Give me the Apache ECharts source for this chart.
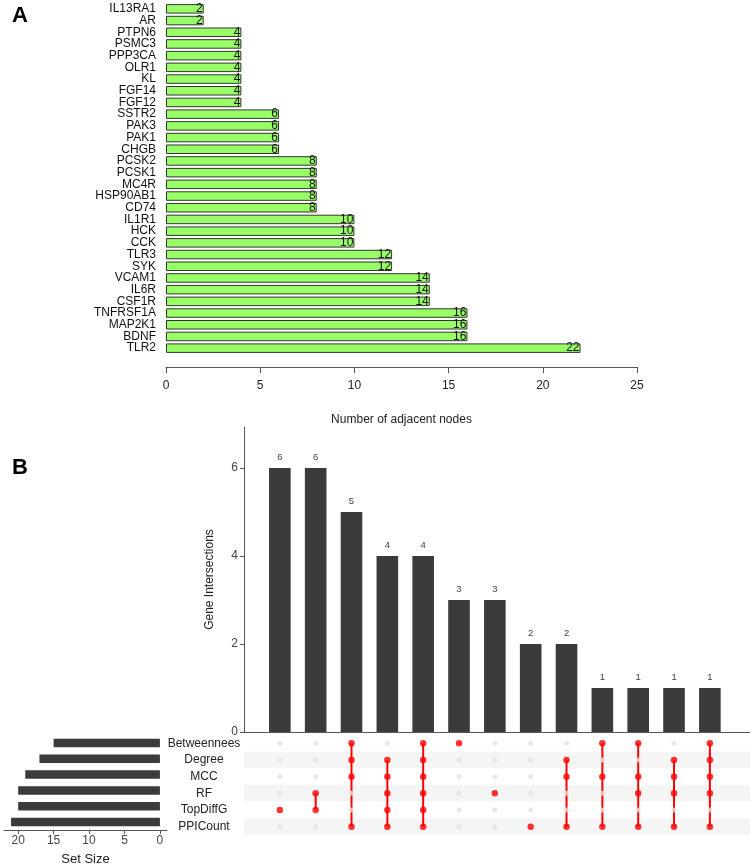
<!DOCTYPE html>
<html>
<head>
<meta charset="utf-8">
<script src="https://cdn.jsdelivr.net/npm/echarts@6/dist/echarts.min.js"></script>
<style>
html,body{margin:0;padding:0;background:#fff;}
#c{width:750px;height:867px;}
</style>
</head>
<body>
<div id="c"></div>
<script>
// Panel A data (top to bottom)
var genes = ['IL13RA1','AR','PTPN6','PSMC3','PPP3CA','OLR1','KL','FGF14','FGF12','SSTR2','PAK3','PAK1','CHGB','PCSK2','PCSK1','MC4R','HSP90AB1','CD74','IL1R1','HCK','CCK','TLR3','SYK','VCAM1','IL6R','CSF1R','TNFRSF1A','MAP2K1','BDNF','TLR2'];
var adjacentNodes = [2,2,4,4,4,4,4,4,4,6,6,6,6,8,8,8,8,8,10,10,10,12,12,14,14,14,16,16,16,22];
var adjTicks = [0,5,10,15,20,25];

// Panel B data
var sets = ['Betweennees','Degree','MCC','RF','TopDiffG','PPICount'];
var setSizes = [15,17,19,20,20,21];
var setSizeTicks = [0,5,10,15,20];
var intersectionCounts = [6,6,5,4,4,3,3,2,2,1,1,1,1];
var intersectionTicks = [0,2,4,6];
var intersectionMembers = [
  ['TopDiffG'],
  ['RF','TopDiffG'],
  ['Betweennees','Degree','MCC','PPICount'],
  ['Degree','MCC','RF','TopDiffG','PPICount'],
  ['Betweennees','Degree','MCC','RF','TopDiffG','PPICount'],
  ['Betweennees'],
  ['RF'],
  ['PPICount'],
  ['Degree','MCC','PPICount'],
  ['Betweennees','MCC','PPICount'],
  ['Betweennees','MCC','RF','PPICount'],
  ['Degree','MCC','RF','PPICount'],
  ['Betweennees','Degree','MCC','RF','PPICount']
];

var FONT = 'Liberation Sans, Arial, sans-serif';
var chart = echarts.init(document.getElementById('c'), null, {renderer:'canvas'});

var greyDots = [], redDots = [], segs = [];
intersectionMembers.forEach(function(m, c){
  var idxs = [];
  sets.forEach(function(s, r){
    if (m.indexOf(s) >= 0) { redDots.push([c, r]); idxs.push(r); }
    else greyDots.push([c, r]);
  });
  if (idxs.length > 1) segs.push([c, Math.min.apply(null, idxs), Math.max.apply(null, idxs)]);
});

var option = {
  backgroundColor:'#fff',
  animation:false,
  textStyle:{fontFamily:FONT},
  graphic:[
    {type:'text', left:12, top:5, style:{text:'A', font:'bold 22px ' + FONT, fill:'#000'}},
    {type:'text', left:12, top:457, style:{text:'B', font:'bold 22px ' + FONT, fill:'#000'}}
  ],
  grid:[
    {left:166, right:113, top:3, height:351},
    {left:244, right:0, top:427, height:305},
    {left:244, right:0, top:735, height:100},
    {left:4, width:163, top:735, height:100}
  ],
  xAxis:[
    {gridIndex:0, type:'value', min:0, max:25, interval:5, offset:13,
     axisLine:{show:true, lineStyle:{color:'#555', width:1}},
     axisTick:{show:true, length:6, lineStyle:{color:'#555'}},
     axisLabel:{color:'#222', fontSize:12, margin:13, fontFamily:FONT},
     splitLine:{show:false},
     name:'Number of adjacent nodes', nameLocation:'middle', nameGap:47,
     nameTextStyle:{color:'#222', fontSize:12, fontFamily:FONT}},
    {gridIndex:1, type:'value', min:-1, max:13.12,
     axisLine:{show:true, onZero:false, lineStyle:{color:'#555', width:1}},
     axisTick:{show:false}, axisLabel:{show:false}, splitLine:{show:false}},
    {gridIndex:2, type:'value', min:-1, max:13.12, show:false,
     splitLine:{show:false}},
    {gridIndex:3, type:'value', min:-1, max:22, inverse:true,
     axisLine:{show:true, onZero:false, lineStyle:{color:'#555', width:1}},
     axisTick:{show:true, length:4, customValues:setSizeTicks, lineStyle:{color:'#555'}},
     axisLabel:{color:'#444', fontSize:12, margin:5, customValues:setSizeTicks, fontFamily:FONT},
     splitLine:{show:false},
     name:'Set Size', nameLocation:'middle', nameGap:23,
     nameTextStyle:{color:'#222', fontSize:13, fontFamily:FONT}}
  ],
  yAxis:[
    {gridIndex:0, type:'category', data:genes, inverse:true,
     axisLine:{show:false}, axisTick:{show:false},
     axisLabel:{color:'#111', fontSize:12, margin:10, interval:0, fontFamily:FONT}},
    {gridIndex:1, type:'value', min:0, max:6.93,
     axisLine:{show:true, onZero:false, lineStyle:{color:'#555', width:1}},
     axisTick:{show:true, length:4, customValues:intersectionTicks, lineStyle:{color:'#555'}},
     axisLabel:{color:'#444', fontSize:12, margin:6, customValues:intersectionTicks, fontFamily:FONT},
     splitLine:{show:false},
     name:'Gene Intersections', nameLocation:'middle', nameRotate:90, nameGap:28,
     nameTextStyle:{color:'#222', fontSize:12, fontFamily:FONT}},
    {gridIndex:2, type:'category', data:sets, inverse:true,
     axisLine:{show:false}, axisTick:{show:false},
     axisLabel:{color:'#222', fontSize:12, margin:40, align:'center', interval:0, fontFamily:FONT},
     splitArea:{show:true, interval:0, areaStyle:{color:['#ffffff','#f5f5f5']}},
     splitLine:{show:false}},
    {gridIndex:3, type:'category', data:sets, inverse:true, show:false}
  ],
  series:[
    {type:'bar', xAxisIndex:0, yAxisIndex:0, data:adjacentNodes, barWidth:9.5,
     itemStyle:{color:'#99ff66', borderColor:'#333', borderWidth:1},
     label:{show:true, position:'insideRight', distance:1, color:'#111', fontSize:12, fontFamily:FONT}},
    {type:'bar', xAxisIndex:1, yAxisIndex:1,
     data:intersectionCounts.map(function(v,i){return [i,v];}), barWidth:21.6,
     itemStyle:{color:'#3b3b3b'},
     label:{show:true, position:'top', distance:6, color:'#444', fontSize:9.5, fontFamily:FONT}},
    {type:'scatter', xAxisIndex:2, yAxisIndex:2, data:greyDots, symbolSize:5,
     itemStyle:{color:'#e2e2e2'}, silent:true},
    {type:'custom', xAxisIndex:2, yAxisIndex:2, data:segs,
     renderItem:function(params, api){
       var p1 = api.coord([api.value(0), api.value(1)]);
       var p2 = api.coord([api.value(0), api.value(2)]);
       return {type:'line', shape:{x1:p1[0], y1:p1[1], x2:p2[0], y2:p2[1]},
               style:{stroke:'#ff0000', lineWidth:2}};
     }},
    {type:'scatter', xAxisIndex:2, yAxisIndex:2, data:redDots, symbolSize:6.5,
     itemStyle:{color:'#ff0000'}},
    {type:'bar', xAxisIndex:3, yAxisIndex:3, data:setSizes, barWidth:8.5,
     itemStyle:{color:'#3b3b3b'}}
  ]
};
chart.setOption(option);
</script>
</body>
</html>
